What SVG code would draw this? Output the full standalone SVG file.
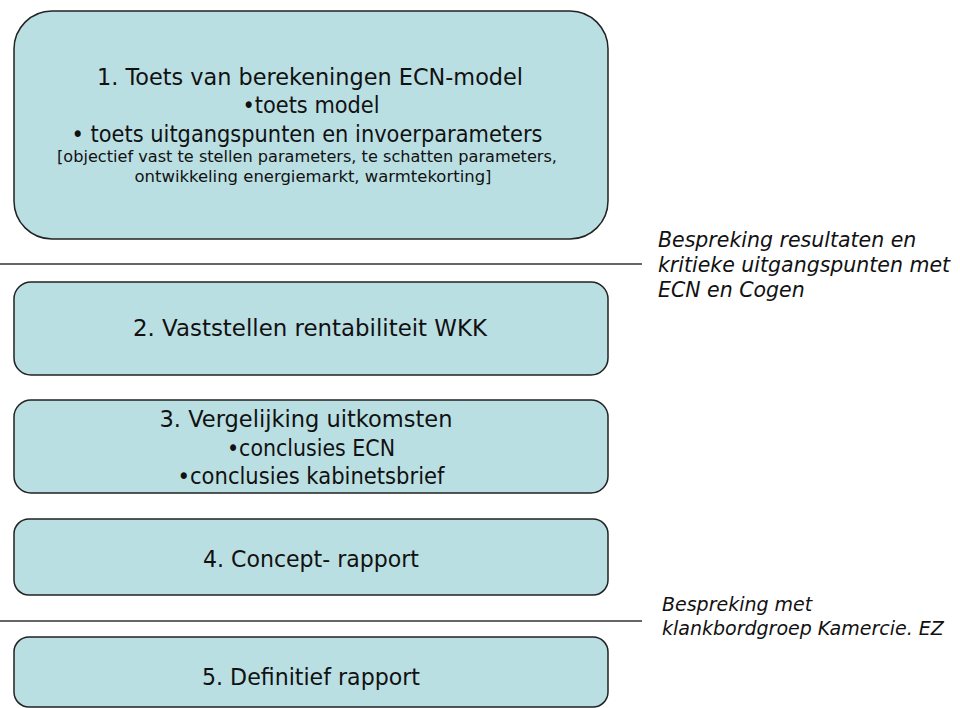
<svg xmlns="http://www.w3.org/2000/svg" width="960" height="708" viewBox="0 0 960 708">
<style>
.box{fill:#BADFE3;stroke:#222;stroke-width:1.5}
.t{font-family:"DejaVu Sans",Verdana,sans-serif;font-size:23px;fill:#111;text-anchor:middle}
.s{font-family:"DejaVu Sans",Verdana,sans-serif;font-size:16.5px;fill:#111;text-anchor:middle}
.a{font-family:"DejaVu Sans",Verdana,sans-serif;font-style:italic;font-size:20.5px;fill:#111}
.a2{font-family:"DejaVu Sans",Verdana,sans-serif;font-style:italic;font-size:19px;fill:#111}
.sep{stroke:#666;stroke-width:2}
</style>
<rect width="960" height="708" fill="#fff"/>
<g id="connectors">
<line class="sep" x1="0" y1="264" x2="642" y2="264"/>
<line class="sep" x1="0" y1="621" x2="642" y2="621"/>
</g>
<g id="node1">
<rect class="box" x="14" y="11" width="594" height="228" rx="38" ry="38"/>
<text class="t" x="310" y="85" textLength="426" lengthAdjust="spacingAndGlyphs">1. Toets van berekeningen ECN-model</text>
<text class="t" x="311" y="113" textLength="137" lengthAdjust="spacingAndGlyphs">•toets model</text>
<text class="t" x="307" y="142" textLength="471" lengthAdjust="spacingAndGlyphs">• toets uitgangspunten en invoerparameters</text>
<text class="s" x="307" y="162" textLength="500" lengthAdjust="spacingAndGlyphs">[objectief vast te stellen parameters, te schatten parameters,</text>
<text class="s" x="313" y="182" textLength="357" lengthAdjust="spacingAndGlyphs">ontwikkeling energiemarkt, warmtekorting]</text>
</g>
<g id="node2">
<rect class="box" x="14" y="282" width="594" height="93" rx="17" ry="17"/>
<text class="t" x="310" y="336" textLength="354" lengthAdjust="spacingAndGlyphs">2. Vaststellen rentabiliteit WKK</text>
</g>
<g id="node3">
<rect class="box" x="14" y="400" width="594" height="93" rx="17" ry="17"/>
<text class="t" x="306" y="427" textLength="293" lengthAdjust="spacingAndGlyphs">3. Vergelijking uitkomsten</text>
<text class="t" x="311" y="456" textLength="168" lengthAdjust="spacingAndGlyphs">•conclusies ECN</text>
<text class="t" x="311" y="484" textLength="267" lengthAdjust="spacingAndGlyphs">•conclusies kabinetsbrief</text>
</g>
<g id="node4">
<rect class="box" x="14" y="519" width="594" height="76" rx="15" ry="15"/>
<text class="t" x="311" y="567" textLength="216" lengthAdjust="spacingAndGlyphs">4. Concept- rapport</text>
</g>
<g id="node5">
<rect class="box" x="14" y="637" width="594" height="70" rx="15" ry="15"/>
<text class="t" x="311" y="685" textLength="218" lengthAdjust="spacingAndGlyphs">5. Definitief rapport</text>
</g>
<g id="note1">
<text class="a" x="658" y="247">Bespreking resultaten en</text>
<text class="a" x="658" y="272">kritieke uitgangspunten met</text>
<text class="a" x="658" y="297">ECN en Cogen</text>
</g>
<g id="note2">
<text class="a2" x="662" y="611">Bespreking met</text>
<text class="a2" x="662" y="635">klankbordgroep Kamercie. EZ</text>
</g>
</svg>
